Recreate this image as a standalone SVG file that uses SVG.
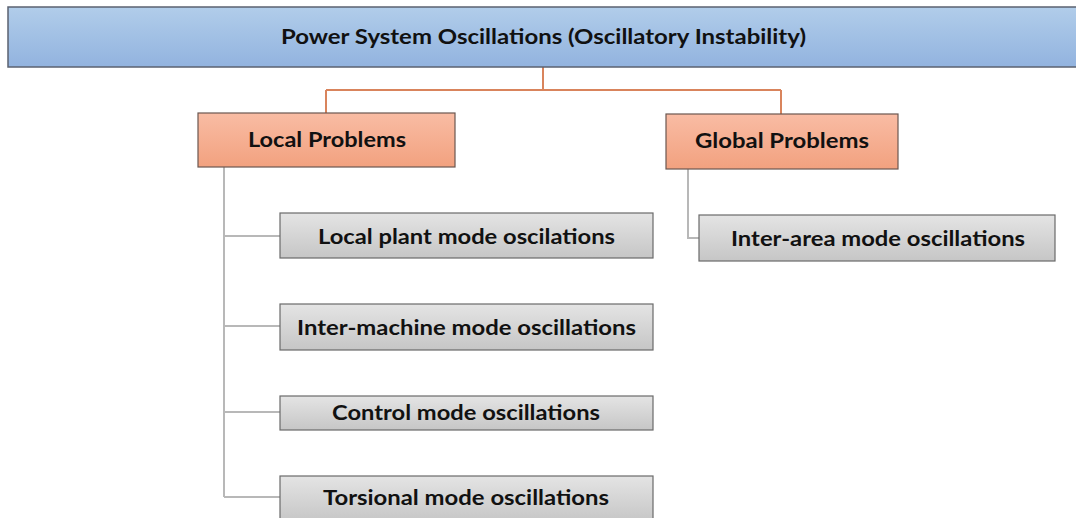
<svg xmlns="http://www.w3.org/2000/svg" width="1076" height="518" viewBox="0 0 1076 518">
<defs>
<linearGradient id="gBlue" x1="0" y1="0" x2="0" y2="1"><stop offset="0" stop-color="#b1cdea"/><stop offset="1" stop-color="#92b3df"/></linearGradient>
<linearGradient id="gSalmon" x1="0" y1="0" x2="0" y2="1"><stop offset="0" stop-color="#f9bca4"/><stop offset="1" stop-color="#f2a17f"/></linearGradient>
<linearGradient id="gGray" x1="0" y1="0" x2="0" y2="1"><stop offset="0" stop-color="#e4e4e4"/><stop offset="1" stop-color="#c6c6c6"/></linearGradient>
</defs>
<style>
text{font-family:"Lato","Liberation Sans",sans-serif;font-weight:bold;fill:#111;text-anchor:middle;font-size:21px}
.top{fill:url(#gBlue);stroke:#5b6270;stroke-width:1.5}
.mid{fill:url(#gSalmon);stroke:#6b5750;stroke-width:1.2}
.leaf{fill:url(#gGray);stroke:#6a6a6a;stroke-width:1.2}
.oc{fill:none;stroke:#d9845c;stroke-width:2}
.gc{fill:none;stroke:#b8b8b8;stroke-width:2}
</style>
<g id="connectors">
<path class="oc" d="M543 67V90M326 90H781M326 90V113M781 90V114"/>
<path class="gc" d="M224 167V497M224 236H280M224 326H280M224 412H280M224 497H280"/>
<path class="gc" d="M688 169V238H699"/>
</g>
<g id="root"><rect class="top" x="8" y="7" width="1072" height="60"/><text x="543.5" y="44" textLength="525" lengthAdjust="spacingAndGlyphs">Power System Oscillations (Oscillatory Instability)</text></g>
<g id="local"><rect class="mid" x="198" y="113" width="257" height="54"/><text x="327" y="147" textLength="158" lengthAdjust="spacingAndGlyphs">Local Problems</text></g>
<g id="global"><rect class="mid" x="666" y="114" width="232" height="55"/><text x="782" y="148" textLength="174" lengthAdjust="spacingAndGlyphs">Global Problems</text></g>
<g id="localplant"><rect class="leaf" x="280" y="213" width="373" height="45"/><text x="466.5" y="244" textLength="297" lengthAdjust="spacingAndGlyphs">Local plant mode oscilations</text></g>
<g id="intermachine"><rect class="leaf" x="280" y="304" width="373" height="46"/><text x="466.5" y="335" textLength="339" lengthAdjust="spacingAndGlyphs">Inter-machine mode oscillations</text></g>
<g id="control"><rect class="leaf" x="280" y="396" width="373" height="34"/><text x="466" y="420" textLength="268" lengthAdjust="spacingAndGlyphs">Control mode oscillations</text></g>
<g id="torsional"><rect class="leaf" x="280" y="476" width="373" height="46"/><text x="466" y="505" textLength="286" lengthAdjust="spacingAndGlyphs">Torsional mode oscillations</text></g>
<g id="interarea"><rect class="leaf" x="699" y="215" width="356" height="46"/><text x="878" y="246" textLength="294" lengthAdjust="spacingAndGlyphs">Inter-area mode oscillations</text></g>
</svg>
